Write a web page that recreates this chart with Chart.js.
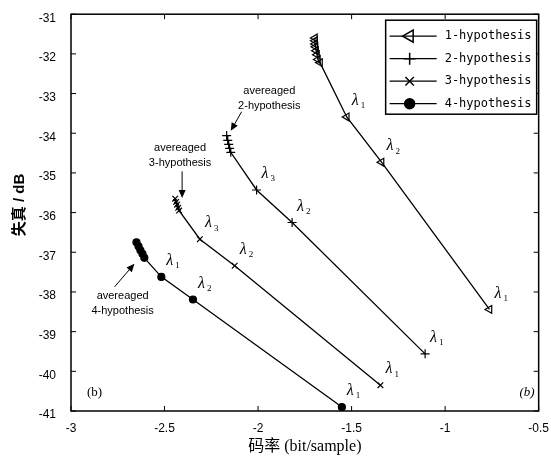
<!DOCTYPE html>
<html>
<head>
<meta charset="utf-8">
<script src="https://cdn.jsdelivr.net/npm/chart.js@4.4.1/dist/chart.umd.min.js"></script>
<style>
  html, body { margin: 0; padding: 0; background: #fff; }
</style>
</head>
<body>
<canvas id="chart" width="551" height="461"></canvas>
<script>
// rate (bit/sample) and distortion (dB) per curve
const hyp1X = [-1.696, -1.696, -1.695, -1.693, -1.690, -1.685, -1.680, -1.669, -1.526, -1.340, -0.763];
const hyp1Y = [-31.60, -31.67, -31.75, -31.82, -31.92, -32.02, -32.14, -32.22, -33.59, -34.73, -38.44];
const hyp2X = [-2.168, -2.162, -2.157, -2.152, -2.146, -2.008, -1.818, -1.107];
const hyp2Y = [-34.06, -34.18, -34.28, -34.38, -34.48, -35.43, -36.25, -39.56];
const hyp3X = [-2.443, -2.438, -2.433, -2.427, -2.422, -2.311, -2.125, -1.346];
const hyp3Y = [-35.65, -35.73, -35.80, -35.88, -35.95, -36.67, -37.34, -40.35];
const hyp4X = [-2.650, -2.639, -2.629, -2.618, -2.608, -2.517, -2.348, -1.552];
const hyp4Y = [-36.75, -36.85, -36.95, -37.04, -37.14, -37.62, -38.19, -40.90];

// lambda subscripts on the last three points of every curve
const hyp1Lambda = ['1', '2', '1'];
const hyp2Lambda = ['3', '2', '1'];
const hyp3Lambda = ['3', '2', '1'];
const hyp4Lambda = ['1', '2', '1'];

const seriesNames = ['1-hypothesis', '2-hypothesis', '3-hypothesis', '4-hypothesis'];
const xTicks = [-3, -2.5, -2, -1.5, -1, -0.5];
const yTicks = [-31, -32, -33, -34, -35, -36, -37, -38, -39, -40, -41];

// "avereaged" notes: text centre (data) and arrow from/to (data)
const noteText = ['2-hypothesis', '3-hypothesis', '4-hypothesis'];
const noteX = [-1.940, -2.417, -2.724];
const noteY = [-32.94, -34.36, -38.11];
const arrowFromX = [-2.088, -2.406, -2.767];
const arrowFromY = [-33.46, -34.96, -37.87];
const arrowToX = [-2.146, -2.406, -2.661];
const arrowToY = [-33.94, -35.63, -37.29];

function pts(xs, ys) {
  return xs.map((x, i) => ({ x: x, y: ys[i] }));
}

const styles = [
  { pointStyle: 'triangle', radius: 4.5, rotation: -90, fill: 'rgba(0,0,0,0)', lr: 7 },
  { pointStyle: 'cross', radius: 4.5, rotation: 0, fill: 'rgba(0,0,0,0)', lr: 6 },
  { pointStyle: 'crossRot', radius: 4, rotation: 0, fill: 'rgba(0,0,0,0)', lr: 6 },
  { pointStyle: 'circle', radius: 3.5, rotation: 0, fill: '#000', lr: 5 }
];

const lambdas = [hyp1Lambda, hyp2Lambda, hyp3Lambda, hyp4Lambda];

function makeSet(i, xs, ys) {
  const s = styles[i];
  return {
    label: seriesNames[i],
    data: pts(xs, ys),
    borderColor: '#000',
    borderWidth: 1.3,
    pointStyle: s.pointStyle,
    pointRadius: s.radius,
    pointRotation: s.rotation,
    pointBackgroundColor: s.fill,
    pointBorderColor: '#000',
    pointBorderWidth: 1.2,
    showLine: true,
    tension: 0
  };
}

function arrow(ctx, x1, y1, x2, y2) {
  const a = Math.atan2(y2 - y1, x2 - x1);
  ctx.beginPath();
  ctx.moveTo(x1, y1);
  ctx.lineTo(x2 - 5 * Math.cos(a), y2 - 5 * Math.sin(a));
  ctx.stroke();
  ctx.beginPath();
  ctx.moveTo(x2, y2);
  ctx.lineTo(x2 - 8 * Math.cos(a) + 3.5 * Math.sin(a), y2 - 8 * Math.sin(a) - 3.5 * Math.cos(a));
  ctx.lineTo(x2 - 8 * Math.cos(a) - 3.5 * Math.sin(a), y2 - 8 * Math.sin(a) + 3.5 * Math.cos(a));
  ctx.closePath();
  ctx.fill();
}

const extras = {
  id: 'extras',
  afterDraw(chart) {
    const ctx = chart.ctx;
    const a = chart.chartArea;
    const xs = chart.scales.x, ys = chart.scales.y;
    ctx.save();
    ctx.strokeStyle = '#000';
    ctx.fillStyle = '#000';

    // box + inner ticks
    ctx.lineWidth = 1.5;
    ctx.strokeRect(a.left, a.top, a.right - a.left, a.bottom - a.top);
    ctx.lineWidth = 1;
    ctx.beginPath();
    xTicks.forEach(v => {
      const p = xs.getPixelForValue(v);
      ctx.moveTo(p, a.bottom); ctx.lineTo(p, a.bottom - 5);
      ctx.moveTo(p, a.top); ctx.lineTo(p, a.top + 5);
    });
    yTicks.forEach(v => {
      const p = ys.getPixelForValue(v);
      ctx.moveTo(a.left, p); ctx.lineTo(a.left + 5, p);
      ctx.moveTo(a.right, p); ctx.lineTo(a.right - 5, p);
    });
    ctx.stroke();

    // lambda labels
    chart.data.datasets.forEach((ds, i) => {
      const meta = chart.getDatasetMeta(i);
      const n = meta.data.length;
      lambdas[i].forEach((sub, k) => {
        const el = meta.data[n - 3 + k];
        const lx = el.x + 5, ly = el.y - 16;
        ctx.font = 'italic 16px "Liberation Serif"';
        ctx.textAlign = 'left';
        ctx.textBaseline = 'middle';
        ctx.fillText('λ', lx, ly);
        ctx.font = '9px "Liberation Serif"';
        ctx.fillText(sub, lx + 9, ly + 5);
      });
    });

    // notes with arrows
    ctx.font = '11px "Liberation Sans"';
    ctx.textAlign = 'center';
    ctx.textBaseline = 'middle';
    noteText.forEach((t, i) => {
      const px = xs.getPixelForValue(noteX[i]);
      const py = ys.getPixelForValue(noteY[i]);
      ctx.fillText('avereaged', px, py);
      ctx.fillText(t, px, py + 15);
      arrow(ctx, xs.getPixelForValue(arrowFromX[i]), ys.getPixelForValue(arrowFromY[i]),
        xs.getPixelForValue(arrowToX[i]), ys.getPixelForValue(arrowToY[i]));
    });

    // corner tags
    ctx.font = '13px "Liberation Serif"';
    ctx.textAlign = 'left';
    ctx.fillText('(b)', a.left + 16, a.bottom - 18);
    ctx.font = 'italic 13px "Liberation Serif"';
    ctx.textAlign = 'right';
    ctx.fillText('(b)', a.right - 4, a.bottom - 18);

    // legend box
    const bx = a.right - 153, by = a.top + 6, bw = 151, bh = 94;
    ctx.fillStyle = '#fff';
    ctx.fillRect(bx, by, bw, bh);
    ctx.fillStyle = '#000';
    ctx.lineWidth = 1.5;
    ctx.strokeRect(bx, by, bw, bh);
    ctx.font = '12px "DejaVu Sans Mono"';
    ctx.textAlign = 'left';
    seriesNames.forEach((name, i) => {
      const ry = by + 16 + i * 22.5;
      ctx.lineWidth = 1.3;
      ctx.beginPath();
      ctx.moveTo(bx + 4, ry); ctx.lineTo(bx + 51, ry);
      ctx.stroke();
      const s = styles[i];
      ctx.fillStyle = s.fill;
      ctx.lineWidth = 1.5;
      Chart.helpers.drawPoint(ctx, { pointStyle: s.pointStyle, radius: s.lr, rotation: s.rotation, borderWidth: 1.5 }, bx + 24, ry);
      ctx.fillStyle = '#000';
      ctx.fillText(name, bx + 59, ry);
    });

    // axis titles
    ctx.font = '16px "Liberation Serif", "Noto Sans CJK SC"';
    ctx.textAlign = 'center';
    ctx.fillText('码率 (bit/sample)', (a.left + a.right) / 2, 447);
    ctx.translate(20, 205);
    ctx.rotate(-Math.PI / 2);
    ctx.font = 'bold 15px "Liberation Sans", "Noto Sans CJK SC"';
    ctx.fillText('失真 / dB', 0, 0);
    ctx.restore();
  }
};

new Chart(document.getElementById('chart'), {
  type: 'scatter',
  data: {
    datasets: [
      makeSet(0, hyp1X, hyp1Y),
      makeSet(1, hyp2X, hyp2Y),
      makeSet(2, hyp3X, hyp3Y),
      makeSet(3, hyp4X, hyp4Y)
    ]
  },
  options: {
    responsive: false,
    animation: false,
    layout: { padding: { top: 9, right: 8, left: 0, bottom: 0 } },
    plugins: { legend: { display: false }, tooltip: { enabled: false } },
    scales: {
      x: {
        type: 'linear', min: -3, max: -0.5,
        grid: { display: false }, border: { display: false },
        afterBuildTicks: s => { s.ticks = xTicks.map(v => ({ value: v })); },
        afterFit: s => { s.height = 50; },
        ticks: {
          color: '#000', padding: 2, maxRotation: 0,
          font: { family: 'Liberation Sans', size: 12 },
          callback: v => String(v)
        }
      },
      y: {
        type: 'linear', min: -41, max: -31,
        grid: { display: false }, border: { display: false },
        afterBuildTicks: s => { s.ticks = yTicks.map(v => ({ value: v })); },
        afterFit: s => { s.width = 71; },
        ticks: { color: '#000', padding: 7, labelOffset: 4, font: { family: 'Liberation Sans', size: 12 } }
      }
    }
  },
  plugins: [extras]
});
</script>
</body>
</html>
